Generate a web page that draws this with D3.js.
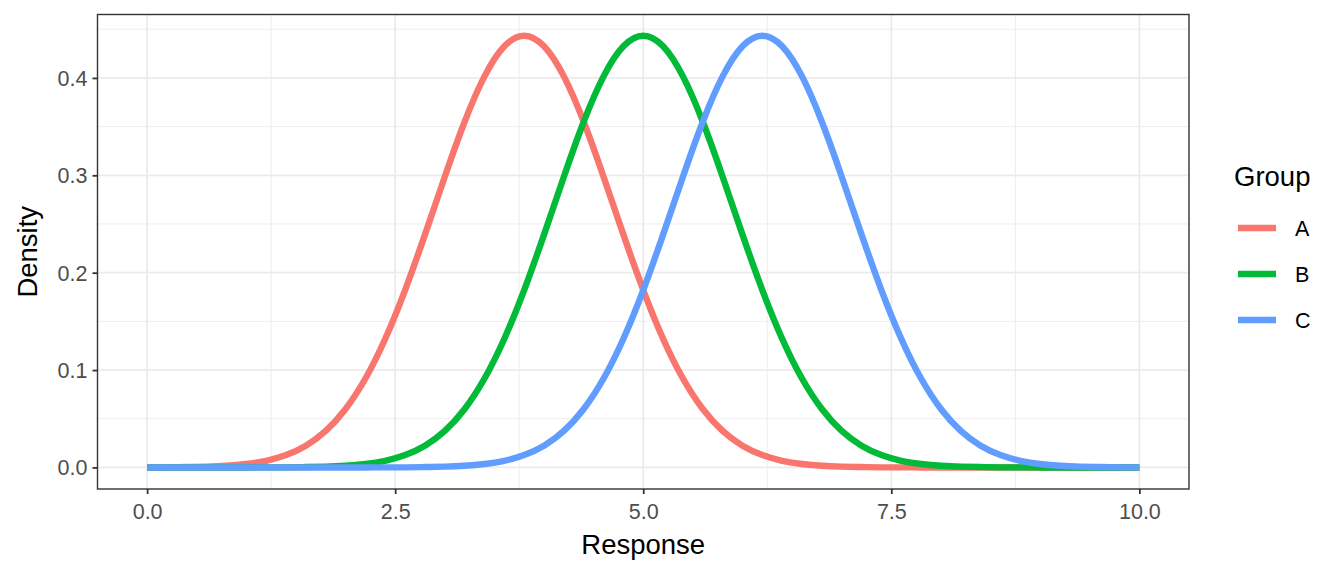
<!DOCTYPE html>
<html>
<head>
<meta charset="utf-8">
<script src="https://cdn.jsdelivr.net/npm/d3@7"></script>
<style>
  body { margin: 0; background: #fff; }
  text { font-family: "Liberation Sans", Arial, sans-serif; }
</style>
</head>
<body>
<div id="vis"></div>
<script>
// response grid, step 0.2 from 0 to 10
var responses = d3.range(51).map(function (i) { return +(i * 0.2).toFixed(1); });

var groups = ["A", "B", "C"];
var groupColors = ["#F8766D", "#00BA38", "#619CFF"];

// densities
var densityA = [0.0001, 0.0001, 0.0004, 0.0008, 0.0017, 0.0035, 0.0068, 0.0127, 0.0223, 0.0375,
                0.0600, 0.0913, 0.1322, 0.1822, 0.2391, 0.2986, 0.3550, 0.4016, 0.4325, 0.4433,
                0.4325, 0.4016, 0.3550, 0.2986, 0.2391, 0.1822, 0.1322, 0.0913, 0.0600, 0.0375,
                0.0223, 0.0127, 0.0068, 0.0035, 0.0017, 0.0008, 0.0004, 0.0001, 0.0001, 0.0000,
                0.0000, 0.0000, 0.0000, 0.0000, 0.0000, 0.0000, 0.0000, 0.0000, 0.0000, 0.0000, 0.0000];
var densityB = [0.0000, 0.0000, 0.0000, 0.0000, 0.0000, 0.0000, 0.0001, 0.0001, 0.0004, 0.0008,
                0.0017, 0.0035, 0.0068, 0.0127, 0.0223, 0.0375, 0.0600, 0.0913, 0.1322, 0.1822,
                0.2391, 0.2986, 0.3550, 0.4016, 0.4325, 0.4433, 0.4325, 0.4016, 0.3550, 0.2986,
                0.2391, 0.1822, 0.1322, 0.0913, 0.0600, 0.0375, 0.0223, 0.0127, 0.0068, 0.0035,
                0.0017, 0.0008, 0.0004, 0.0001, 0.0001, 0.0000, 0.0000, 0.0000, 0.0000, 0.0000, 0.0000];
var densityC = [0.0000, 0.0000, 0.0000, 0.0000, 0.0000, 0.0000, 0.0000, 0.0000, 0.0000, 0.0000,
                0.0000, 0.0000, 0.0001, 0.0001, 0.0004, 0.0008, 0.0017, 0.0035, 0.0068, 0.0127,
                0.0223, 0.0375, 0.0600, 0.0913, 0.1322, 0.1822, 0.2391, 0.2986, 0.3550, 0.4016,
                0.4325, 0.4433, 0.4325, 0.4016, 0.3550, 0.2986, 0.2391, 0.1822, 0.1322, 0.0913,
                0.0600, 0.0375, 0.0223, 0.0127, 0.0068, 0.0035, 0.0017, 0.0008, 0.0004, 0.0001, 0.0001];

var xTicks = [0, 2.5, 5, 7.5, 10];
var xMinor = [1.25, 3.75, 6.25, 8.75];
var yTicks = [0, 0.1, 0.2, 0.3, 0.4];
var yMinor = [0.05, 0.15, 0.25, 0.35, 0.45];

var W = 1344, H = 576;
var panel = { left: 97.5, right: 1189, top: 14.5, bottom: 489 };

var series = [densityA, densityB, densityC].map(function (vals, gi) {
    return {
        name: groups[gi],
        color: groupColors[gi],
        values: vals.map(function (v, i) { return { x: responses[i], y: v }; })
    };
});

var x = d3.scaleLinear().domain([-0.5, 10.5]).range([panel.left, panel.right]);
var y = d3.scaleLinear().domain([-0.02215, 0.46515]).range([panel.bottom, panel.top]);

var svg = d3.select("#vis").append("svg")
    .attr("width", W)
    .attr("height", H);

// panel grid
var grid = svg.append("g");
grid.selectAll("line.xminor").data(xMinor).enter().append("line")
    .attr("x1", function (d) { return x(d); }).attr("x2", function (d) { return x(d); })
    .attr("y1", panel.top).attr("y2", panel.bottom)
    .attr("stroke", "#ebebeb").attr("stroke-width", 0.9);
grid.selectAll("line.yminor").data(yMinor).enter().append("line")
    .attr("y1", function (d) { return y(d); }).attr("y2", function (d) { return y(d); })
    .attr("x1", panel.left).attr("x2", panel.right)
    .attr("stroke", "#ebebeb").attr("stroke-width", 0.9);
grid.selectAll("line.xmajor").data(xTicks).enter().append("line")
    .attr("x1", function (d) { return x(d); }).attr("x2", function (d) { return x(d); })
    .attr("y1", panel.top).attr("y2", panel.bottom)
    .attr("stroke", "#ebebeb").attr("stroke-width", 1.8);
grid.selectAll("line.ymajor").data(yTicks).enter().append("line")
    .attr("y1", function (d) { return y(d); }).attr("y2", function (d) { return y(d); })
    .attr("x1", panel.left).attr("x2", panel.right)
    .attr("stroke", "#ebebeb").attr("stroke-width", 1.8);

// density curves
var line = d3.line()
    .x(function (d) { return x(d.x); })
    .y(function (d) { return y(d.y); })
    .curve(d3.curveNatural);

svg.append("g").selectAll("path")
    .data(series)
    .enter().append("path")
    .attr("d", function (d) { return line(d.values); })
    .attr("fill", "none")
    .attr("stroke", function (d) { return d.color; })
    .attr("stroke-width", 6.4)
    .attr("stroke-linecap", "butt");

// panel border
svg.append("rect")
    .attr("x", panel.left).attr("y", panel.top)
    .attr("width", panel.right - panel.left)
    .attr("height", panel.bottom - panel.top)
    .attr("fill", "none")
    .attr("stroke", "#333333")
    .attr("stroke-width", 1.4);

// axes
var xAxis = svg.append("g")
    .attr("transform", "translate(0," + panel.bottom + ")")
    .call(d3.axisBottom(x).tickValues(xTicks).tickSize(5).tickPadding(5)
        .tickFormat(d3.format(".1f")));
var yAxis = svg.append("g")
    .attr("transform", "translate(" + panel.left + ",0)")
    .call(d3.axisLeft(y).tickValues(yTicks).tickSize(5).tickPadding(5)
        .tickFormat(d3.format(".1f")));

[xAxis, yAxis].forEach(function (ax) {
    ax.select(".domain").remove();
    ax.selectAll(".tick line").attr("stroke", "#333333").attr("stroke-width", 1.8);
    ax.selectAll(".tick text")
        .attr("fill", "#4d4d4d")
        .style("font-size", "21.5px")
        .style("font-family", "Liberation Sans, Arial, sans-serif");
});
xAxis.selectAll(".tick text").attr("dy", "0.95em");
yAxis.selectAll(".tick text").attr("dy", "0.35em");

// axis titles
svg.append("text")
    .attr("x", (panel.left + panel.right) / 2)
    .attr("y", 554)
    .attr("text-anchor", "middle")
    .style("font-size", "27.5px")
    .text("Response");

svg.append("text")
    .attr("transform", "translate(37," + (panel.top + panel.bottom) / 2 + ")rotate(-90)")
    .attr("text-anchor", "middle")
    .style("font-size", "27.5px")
    .text("Density");

// legend
var legend = svg.append("g");
legend.append("text")
    .attr("x", 1234)
    .attr("y", 186)
    .style("font-size", "27.5px")
    .text("Group");

var items = legend.selectAll("g.item")
    .data(series)
    .enter().append("g")
    .attr("transform", function (d, i) { return "translate(0," + (228 + i * 46) + ")"; });
items.append("line")
    .attr("x1", 1238).attr("x2", 1276)
    .attr("y1", 0).attr("y2", 0)
    .attr("stroke", function (d) { return d.color; })
    .attr("stroke-width", 6.4);
items.append("text")
    .attr("x", 1295)
    .attr("y", 0)
    .attr("dy", "0.36em")
    .style("font-size", "21.5px")
    .text(function (d) { return d.name; });
</script>
</body>
</html>
